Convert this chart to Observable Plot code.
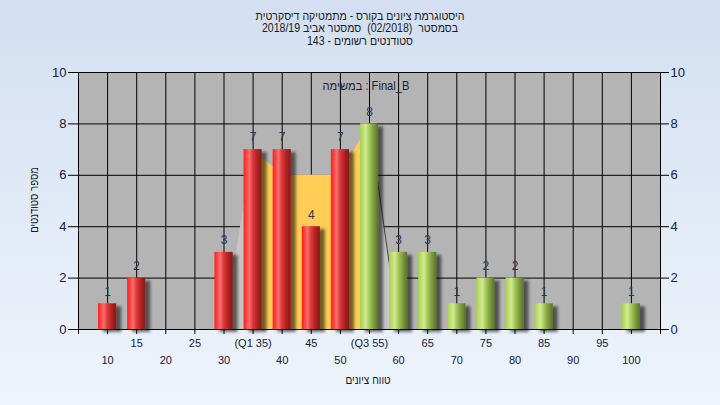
<!DOCTYPE html>
<html>
<head>
<meta charset="utf-8">
<script src="https://cdn.jsdelivr.net/npm/d3@7"></script>
<script src="https://cdn.jsdelivr.net/npm/@observablehq/plot@0.6"></script>
<style>
  html, body { margin: 0; padding: 0; }
  body { width: 720px; height: 405px; background: linear-gradient(#d3dff1, #eef4fc); overflow: hidden; }
  #chart svg { display: block; }
</style>
</head>
<body>
<div id="chart"></div>
<script>
// ---- data ----
const grades = [10, 15, 20, 25, 30, 35, 40, 45, 50, 55, 60, 65, 70, 75, 80, 85, 90, 95, 100];
const counts = [1, 2, 0, 0, 3, 7, 7, 4, 7, 8, 3, 3, 1, 2, 2, 1, 0, 0, 1];
const passGrade = 55;
const q1 = 35;
const q3 = 55;
const yTicks = [0, 2, 4, 6, 8, 10];
const areaGrades = [30, 35, 40, 45, 50, 55, 60];
const areaCounts = [0, 7, 6, 6, 6, 8, 0];
const titleLines = [
  "היסטוגרמת ציונים בקורס - מתמטיקה דיסקרטית",
  "בסמסטר  (02/2018)  סמסטר אביב 2018/19",
  "סטודנטים רשומים - 143"
];
const taskLabel = "במשימה : Final_B";
const yTitle = "מספר סטודנטים";
const xTitle = "טווח ציונים";

// ---- derived tables ----
const bars = grades.map((g, i) => ({grade: g, count: counts[i]}));
const area = areaGrades.map((g, i) => ({grade: g, count: areaCounts[i]}));
const xLabel = d => d === q1 ? `(Q1 ${d})` : d === q3 ? `(Q3 ${d})` : String(d);
const row1 = grades.filter((g, i) => i % 2 === 1);
const row2 = grades.filter((g, i) => i % 2 === 0);
const xEdges = [5, ...grades, 105];

const font = "'Liberation Sans', Arial, 'DejaVu Sans', sans-serif";
const textColor = "#15203a";

const chart = Plot.plot({
  width: 720,
  height: 405,
  marginLeft: 78,
  marginRight: 60,
  marginTop: 72,
  marginBottom: 76,
  style: {background: "transparent", fontFamily: font, color: textColor, overflow: "visible"},
  x: {type: "linear", domain: [5, 105], axis: null},
  y: {domain: [0, 10], axis: null},
  marks: [
    Plot.frame({fill: "#b4b4b4"}),
    Plot.ruleY(yTicks, {stroke: "#000", strokeWidth: 1}),
    Plot.ruleX(grades, {stroke: "#000", strokeWidth: 1}),
    Plot.areaY(area, {x: "grade", y: "count", fill: "#c5c5c5"}),
    Plot.areaY(area.filter(d => d.grade >= q1 && d.grade <= q3), {x: "grade", y: "count", fill: "#ffcc55"}),
    Plot.line(area.filter(d => d.grade >= q3), {x: "grade", y: "count", stroke: "#4a4a4a", strokeWidth: 1}),
    Plot.rectY(bars.filter(d => d.count > 0 && d.grade < passGrade), {
      x1: d => d.grade - 2.5, x2: d => d.grade + 2.5, y: "count",
      insetLeft: 5.5, insetRight: 5.5, fill: "url(#gRed)"
    }),
    Plot.rectY(bars.filter(d => d.count > 0 && d.grade >= passGrade), {
      x1: d => d.grade - 2.5, x2: d => d.grade + 2.5, y: "count",
      insetLeft: 5.5, insetRight: 5.5, fill: "url(#gGreen)"
    }),
    Plot.text(bars.filter(d => d.count > 0), {
      x: "grade", y: "count", text: d => String(d.count), dy: -12,
      fontSize: 12, fill: "#2b3552"
    }),
    Plot.frame({stroke: "#000", strokeWidth: 1}),
    Plot.axisY({anchor: "left", ticks: yTicks, tickSize: 10, tickPadding: 2, fontSize: 13, label: null, stroke: "#000", fill: textColor}),
    Plot.axisY({anchor: "right", ticks: yTicks, tickSize: 8, tickPadding: 2, fontSize: 13, label: null, stroke: "#000", fill: textColor}),
    Plot.axisX({ticks: xEdges, tickSize: 5, tickFormat: () => "", label: null, stroke: "#000"}),
    Plot.axisX({ticks: row1, tickSize: 0, tickPadding: 10, tickFormat: xLabel, fontSize: 11, label: null, fill: textColor}),
    Plot.axisX({ticks: row2, tickSize: 0, tickPadding: 27, tickFormat: xLabel, fontSize: 11, label: null, fill: textColor})
  ]
});

document.getElementById("chart").appendChild(chart);

const svg = d3.select(chart);
const defs = svg.insert("defs", ":first-child");

const red = defs.append("linearGradient").attr("id", "gRed").attr("x1", 0).attr("x2", 1).attr("y1", 0).attr("y2", 0);
[[0, "#ff1e1e"], [0.18, "#ff4848"], [0.32, "#f77070"], [0.5, "#e03a3a"], [0.75, "#b02424"], [1, "#861818"]]
  .forEach(([o, c]) => red.append("stop").attr("offset", o).attr("stop-color", c));

const green = defs.append("linearGradient").attr("id", "gGreen").attr("x1", 0).attr("x2", 1).attr("y1", 0).attr("y2", 0);
[[0, "#a6d24c"], [0.18, "#bfe070"], [0.32, "#d2ea95"], [0.5, "#a9cb5e"], [0.75, "#7e9e3e"], [1, "#587428"]]
  .forEach(([o, c]) => green.append("stop").attr("offset", o).attr("stop-color", c));

const f = defs.append("filter").attr("id", "shadow").attr("x", "-20%").attr("y", "-20%").attr("width", "180%").attr("height", "140%");
f.append("feDropShadow").attr("dx", 5).attr("dy", 3).attr("stdDeviation", 1.8)
  .attr("flood-color", "#000").attr("flood-opacity", 0.55);

svg.selectAll('g[aria-label="rect"]').attr("filter", "url(#shadow)");

function addText(t, x, y, opts) {
  const {rotate = 0, sx = 1, dir = "rtl", size = 12, fill = "#1a1a1a"} = opts || {};
  return svg.append("text")
    .attr("transform", `translate(${x},${y}) rotate(${rotate}) scale(${sx},1)`)
    .attr("text-anchor", "middle").attr("dominant-baseline", "middle")
    .attr("direction", dir).style("unicode-bidi", "embed").style("white-space", "pre")
    .attr("font-family", font).attr("font-size", size).attr("fill", fill)
    .text(t);
}

// titles
titleLines.forEach((t, i) => addText(t, 360, 16.5 + i * 12.5, {sx: 0.88}));
addText(taskLabel, 366, 87, {dir: "ltr", sx: 0.93, fill: "#221a33"});
addText(yTitle, 35, 200, {rotate: -90, sx: 0.8});
addText(xTitle, 368, 381, {sx: 0.84});
</script>
</body>
</html>
